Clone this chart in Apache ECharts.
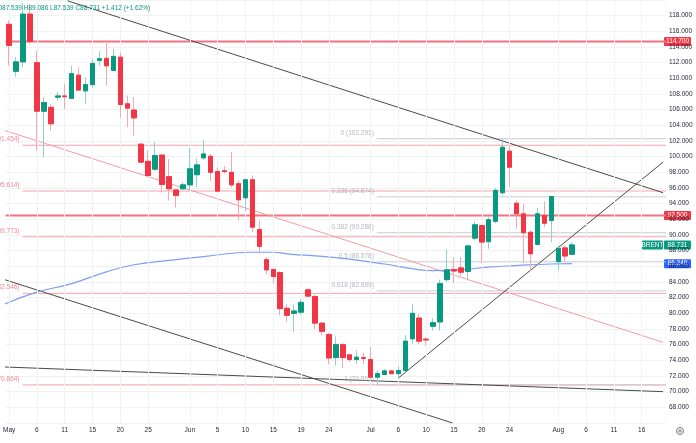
<!DOCTYPE html>
<html>
<head>
<meta charset="utf-8">
<script src="https://cdn.jsdelivr.net/npm/echarts@6/dist/echarts.min.js"></script>
<style>
html,body{margin:0;padding:0;background:#fff}
#chart-panel{width:696px;height:443px}
</style>
</head>
<body>
<div id="chart-panel"></div>
<script>
/* daily candles */
const opens = [116.9,110.9,112.1,118.2,112.0,105.8,106.3,107.6,107.75,107.45,
  110.4,108.4,109.2,112.3,112.55,111.0,112.7,106.75,105.95,101.6,
  99.4,98.4,100.2,97.45,95.75,95.9,96.4,97.7,99.85,100.05,
  98.1,98.2,98.0,96.55,94.75,97.05,90.7,86.85,85.6,85.2,
  80.65,80.0,80.15,83.0,82.15,78.75,77.3,74.35,76.0,74.7,
  74.1,74.35,74.1,71.85,72.2,72.65,72.3,72.7,76.75,79.4,
  76.7,78.35,78.9,84.3,85.6,85.8,85.35,89.6,91.2,89.15,
  91.75,95.4,100.7,94.05,92.7,90.35,88.8,92.5,91.85,86.6,
  88.35,87.539]
const closes = [114.2,112.1,118.2,114.7,105.8,106.9,104.2,107.75,107.65,110.6,
  108.5,109.2,111.9,112.5,111.6,112.8,106.65,106.2,104.95,99.3,
  97.6,100.15,96.45,95.9,95.05,96.4,98.45,98.95,100.35,98.0,
  95.6,98.1,96.4,94.5,97.05,91.0,88.55,85.55,84.7,80.6,
  79.75,80.3,81.4,82.2,78.75,77.7,74.3,76.0,74.35,74.1,
  74.4,74.25,71.85,72.3,72.65,72.3,72.7,76.45,80.0,76.45,
  76.6,78.8,83.8,85.55,85.4,85.25,88.6,91.3,89.1,91.95,
  95.7,101.2,98.65,92.7,90.3,87.6,92.7,91.5,94.9,88.3,
  87.319,88.731]
const lows = [111.6,110.2,111.4,114.4,100.8,99.9,103.3,107.2,106.1,107.4,
  108.4,106.7,108.85,111.6,109.1,110.9,104.95,103.75,102.7,99.2,
  97.3,98.2,95.45,94.4,93.5,95.75,95.75,96.1,99.6,96.9,
  95.45,97.8,96.1,91.85,93.0,90.35,87.6,84.95,83.85,79.75,
  78.9,77.6,79.8,82.05,78.0,77.2,73.5,73.35,73.0,73.8,
  73.55,73.55,71.65,70.865,72.1,72.2,71.65,72.5,76.1,76.1,
  75.9,77.8,77.8,84.0,83.85,84.8,84.2,89.3,86.4,88.25,
  91.5,95.15,96.1,90.8,86.4,85.45,88.65,91.0,89.1,85.55,
  86.5,87.539]
const highs = [117.4,112.7,119.6,119.4,113.5,107.6,106.7,108.2,109.3,111.6,
  111.4,110.1,112.5,113.5,114.9,113.75,113.3,107.8,107.6,101.7,
  100.8,101.85,100.3,99.7,95.9,96.75,101.1,99.8,102.15,100.35,
  98.65,98.8,100.6,96.95,97.2,97.6,91.85,87.2,85.7,85.4,
  81.2,81.1,81.85,83.15,82.4,78.9,77.5,77.05,76.2,74.85,
  75.3,74.95,75.7,72.7,72.9,72.75,73.2,77.2,81.2,79.95,
  76.9,79.4,84.3,88.1,87.1,87.2,88.75,91.75,91.3,92.35,
  96.0,102.291,101.4,94.4,94.0,90.6,93.5,94.3,95.0,88.55,
  88.65,89.086]

/* time axis: 95 slots, labels at these slots */
const slotCount = 95
const tickIdx = [0,4,8,12,16,20,26,30,34,38,42,46,52,56,60,64,68,72,79,83,87,91]
const tickText = ['May','6','11','15','20','25','Jun','5','10','15','19','24',
  'Jul','6','10','15','20','24','Aug','6','11','16']

/* moving average, sampled points */
const maIdx = [-0.6,4,9,14,18,23,28,35,38,40,47,54,58,61,65,69,73,78,81]
const maVal = [81.2,82.7,83.8,85.3,86.2,86.75,87.25,87.8,87.8,87.6,87.1,86.3,85.7,85.45,85.55,85.9,86.1,86.3,86.34]

/* drawings */
const keyLevels = [114.7, 92.5]
const pinkLevels = [101.454, 95.614, 89.773, 82.546, 70.864]
const pinkStart = 1.93
const fibRatios = ['0','0.236','0.382','0.5','0.618','1']
const fibLevels = [102.291, 94.874, 90.286, 86.578, 82.869, 70.865]
const fibStart = 52.9
const blackLines = [
  [[8.4,119.9],[94.07,95.4]],
  [[56.0,71.74],[94.07,99.3]],
  [[-0.64,84.3],[63.8,66.0]],
  [[-0.64,73.15],[94.07,70.0]]
]
const redLine = [[-0.64,103.35],[94.07,76.3]]

const UP = '#089981', DOWN = '#f23645'
const FONT = 'Liberation Sans, Arial, sans-serif'

let last = closes.length - 1
let chg = closes[last] - closes[last - 1]
let header = 'O' + opens[last].toFixed(3) + ' H' + highs[last].toFixed(3) +
  ' L' + lows[last].toFixed(3) + ' C' + closes[last].toFixed(3) +
  ' +' + chg.toFixed(3) + ' (+' + (chg / closes[last - 1] * 100).toFixed(2) + '%)'

let categories = []
for (let i = 0; i < slotCount; i++) categories.push(String(i))

let wickData = opens.map((o, i) => [o, closes[i], lows[i], highs[i]])
let bodyData = opens.map((o, i) => [o, closes[i], Math.min(o, closes[i]), Math.max(o, closes[i])])

/* horizontal level from x0 to the right edge */
function flatLine(x0, v, color, width) {
  return {
    type: 'line', xAxisIndex: 1, yAxisIndex: 0,
    data: [[x0, v], [slotCount - 0.5, v]],
    symbol: 'none', silent: true, z: 3,
    lineStyle: { color: color, width: width }
  }
}

/* captions left of a level's start */
function captions(x0, values, texts, color) {
  return {
    type: 'scatter', xAxisIndex: 1, symbolSize: 0, silent: true, z: 5,
    data: values.map((v, k) => [x0, v, texts[k]]),
    label: { show: true, position: 'left', distance: 3, offset: [0, -6],
      formatter: p => p.data[2], color: color, fontSize: 6.5, fontFamily: FONT }
  }
}

let series = []

/* vertical grid lines at the time labels */
series.push({
  type: 'line', xAxisIndex: 1, data: [], silent: true, z: 1,
  markLine: {
    symbol: ['none', 'none'], silent: true, animation: false,
    label: { show: false },
    lineStyle: { color: '#f0f2f6', width: 1, type: 'solid' },
    data: tickIdx.map(i => ({ xAxis: i }))
  }
})

pinkLevels.forEach(v => series.push(flatLine(pinkStart, v, '#f7a3aa', 1)))
fibLevels.forEach(v => series.push(flatLine(fibStart, v, '#c9cbd1', 1)))
keyLevels.forEach(v => series.push(flatLine(-0.5, v, '#f2737d', 2)))

series.push({
  type: 'line', xAxisIndex: 1, data: redLine, symbol: 'none', silent: true, z: 3,
  lineStyle: { color: '#f59aa1', width: 1 }
})
blackLines.forEach(seg => series.push({
  type: 'line', xAxisIndex: 1, data: seg, symbol: 'none', silent: true, z: 4,
  lineStyle: { color: '#4a4a4a', width: 1 }
}))

series.push({
  name: 'MA', type: 'line', xAxisIndex: 1,
  data: maIdx.map((x, k) => [x, maVal[k]]),
  smooth: true, symbol: 'none', silent: true, z: 4,
  lineStyle: { color: '#7d9ef3', width: 1.2 }
})

series.push(captions(pinkStart, pinkLevels,
  pinkLevels.map(v => '0.786 (' + v.toFixed(3) + ')'), '#ef6b76'))
series.push(captions(fibStart, fibLevels,
  fibLevels.map((v, k) => fibRatios[k] + ' (' + v.toFixed(3) + ')'), '#a3a6ae'))

/* candles: light wicks first, solid bodies on top */
series.push({
  type: 'candlestick', xAxisIndex: 0, data: wickData, barWidth: 5, z: 6, silent: true,
  itemStyle: { color: '#8fd2c6', color0: '#f7a8ae', borderColor: '#8fd2c6', borderColor0: '#f7a8ae', borderWidth: 1 }
})
series.push({
  type: 'candlestick', xAxisIndex: 0, data: bodyData, barWidth: 5, z: 7, silent: true,
  itemStyle: { color: UP, color0: DOWN, borderColor: UP, borderColor0: DOWN, borderWidth: 1 }
})

let myChart = echarts.init(document.getElementById('chart-panel'))
myChart.setOption({
  animation: false,
  backgroundColor: '#ffffff',
  textStyle: { fontFamily: FONT },
  grid: { left: 1, right: 30, top: 0, bottom: 20 },
  xAxis: [
    {
      type: 'category', data: categories, boundaryGap: true,
      axisLine: { show: false }, axisTick: { show: false },
      splitLine: { show: false },
      axisLabel: {
        interval: (idx) => tickIdx.indexOf(idx) >= 0,
        formatter: (val) => tickText[tickIdx.indexOf(Number(val))] || '',
        fontSize: 6.5, color: '#1e222d', margin: 4
      }
    },
    { type: 'value', min: -0.5, max: slotCount - 0.5, show: false }
  ],
  yAxis: {
    type: 'value', position: 'right', min: 66, max: 120, interval: 2,
    axisLine: { show: false }, axisTick: { show: false },
    splitLine: { lineStyle: { color: '#f0f2f6', width: 1 } },
    axisLabel: {
      fontSize: 6.5, color: '#1e222d', margin: 3,
      formatter: v => (v === 66 || v === 120) ? '' : v.toFixed(3)
    }
  },
  series: series
})

/* right-axis price tags */
function tag(v, text, color, x, w) {
  let y = myChart.convertToPixel({ yAxisIndex: 0 }, v)
  return {
    type: 'group', x: x, y: y - 4.5, z: 100,
    children: [
      { type: 'rect', shape: { x: 0, y: 0, width: w, height: 9, r: 1 }, style: { fill: color } },
      { type: 'text', x: w / 2, y: 4.5, style: { text: text, fill: '#fff', fontSize: 6.5, fontFamily: FONT, align: 'center', verticalAlign: 'middle' } }
    ]
  }
}
let tags = []
keyLevels.forEach(v => tags.push(tag(v, v.toFixed(3), DOWN, 664, 27)))
tags.push(tag(maVal[maVal.length - 1], maVal[maVal.length - 1].toFixed(3), '#2962ff', 664, 27))
tags.push(tag(closes[last], 'BRENT', UP, 642, 21))
tags.push(tag(closes[last], closes[last].toFixed(3), UP, 664, 27))
tags.push({
  type: 'text', x: -3, y: 5, z: 100,
  style: { text: header, fill: UP, fontSize: 6.5, fontFamily: FONT }
})
tags.push({
  type: 'circle', shape: { cx: 680, cy: 431, r: 3.5 }, z: 100,
  style: { fill: 'none', stroke: '#555', lineWidth: 0.8 }
})
tags.push({
  type: 'circle', shape: { cx: 680, cy: 431, r: 1.2 }, z: 100,
  style: { fill: 'none', stroke: '#555', lineWidth: 0.8 }
})
myChart.setOption({ graphic: tags })
</script>
</body>
</html>
